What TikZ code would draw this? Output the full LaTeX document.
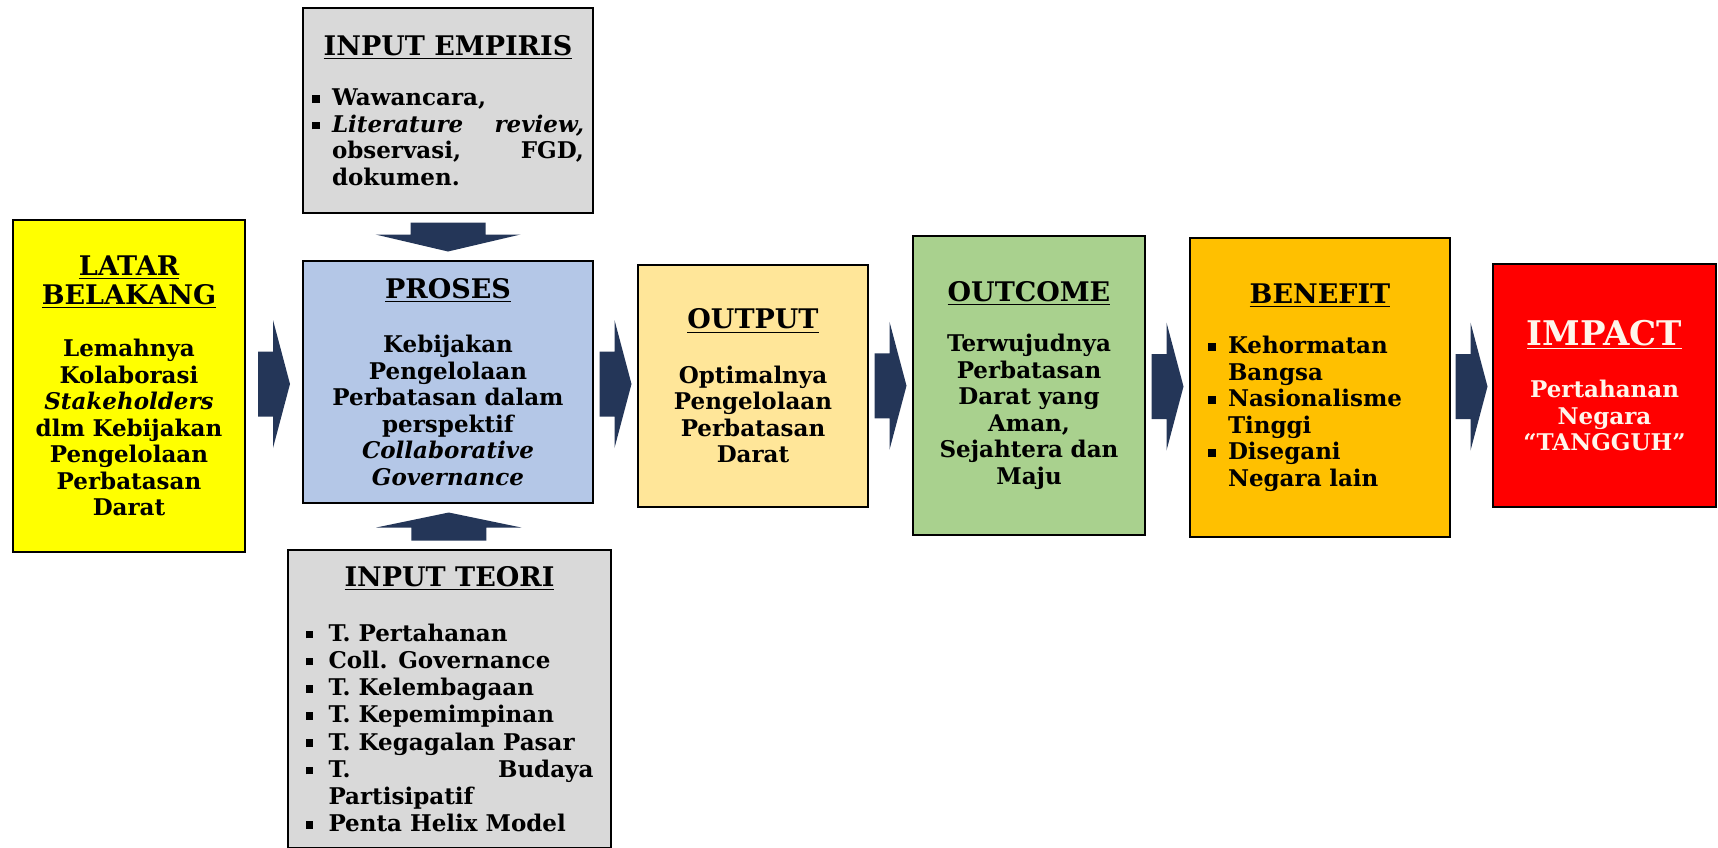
\documentclass[tikz,border=0pt]{standalone}
\usepackage{fontspec}
\setmainfont{DejaVu Serif}
\usepackage{tikz}
\usetikzlibrary{calc}

\newcommand{\ttl}[1]{{\fontsize{13.5}{14.5}\selectfont #1\par}}
\newcommand{\sqbul}{\raisebox{0.25ex}{\rule{3.8pt}{3.8pt}}}
\newcommand{\bitem}[2][11.5pt]{\par\hangindent=#1\hangafter=1\noindent\makebox[#1][l]{\sqbul}#2}

\begin{document}
\begin{tikzpicture}[x=0.5pt,y=0.5pt,yscale=-1,
  box/.style={draw={rgb, 255:red, 0; green, 0; blue, 0 }, line width=1pt, inner sep=3pt,
    font=\bfseries\fontsize{11.5}{13.25}\selectfont},
  rightarr/.style={draw=none, fill={rgb, 255:red, 36; green, 54; blue, 88 },
    to path={($(\tikztostart)!0.5!(\tikztotarget)$) ++(-16,-32.5) -- ++(15,0) -- ++(0,-31.5) -- ++(17,64) -- ++(-17,64) -- ++(0,-31.5) -- ++(-15,0) -- cycle}},
  downarr/.style={draw=none, fill={rgb, 255:red, 36; green, 54; blue, 88 },
    to path={($(\tikztostart)!0.5!(\tikztotarget)$) ++(-37.5,-14.5) -- ++(75,0) -- ++(0,12) -- ++(35,0) -- ++(-72.5,17) -- ++(-72.5,-17) -- ++(35,0) -- cycle}},
  uparr/.style={draw=none, fill={rgb, 255:red, 36; green, 54; blue, 88 },
    to path={($(\tikztostart)!0.5!(\tikztotarget)$) ++(-37.5,14) -- ++(75,0) -- ++(0,-13) -- ++(35,0) -- ++(-72.5,-15) -- ++(-72.5,15) -- ++(35,0) -- cycle}}
]
\useasboundingbox (0,0) rectangle (1718,847);
\clip (0,0) rectangle (1718,847);

%Shape: Rectangle [latar belakang]
\node[box, fill={rgb, 255:red, 255; green, 255; blue, 0 }, minimum width=116pt, minimum height=166pt, text width=108pt, align=center] (latar) at (129,386)
  {\ttl{\underline{LATAR}\\\underline{BELAKANG}}\vspace{13pt}Lemahnya\\Kolaborasi\\\textit{Stakeholders}\\dlm Kebijakan\\Pengelolaan\\Perbatasan\\Darat};
%Shape: Rectangle [input empiris]
\node[box, fill={rgb, 255:red, 217; green, 217; blue, 217 }, minimum width=145pt, minimum height=102.5pt, text width=136pt, align=justify] (empiris) at (448,110.5)
  {\ttl{\centering\underline{INPUT EMPIRIS}}\vspace{12pt}\bitem[10pt]{Wawancara,}\bitem[10pt]{\textit{Literature review,}\linebreak observasi, FGD,\linebreak dokumen.}\par};
%Shape: Rectangle [proses]
\node[box, fill={rgb, 255:red, 180; green, 199; blue, 231 }, minimum width=145pt, minimum height=121pt, text width=137pt, align=center] (proses) at (448,382)
  {\ttl{\underline{PROSES}}\vspace{14pt}Kebijakan\\Pengelolaan\\Perbatasan dalam\\perspektif\\\textit{Collaborative}\\\textit{Governance}};
%Shape: Rectangle [input teori]
\node[box, fill={rgb, 255:red, 217; green, 217; blue, 217 }, anchor=north, minimum width=161.5pt, inner ysep=8pt, text width=144pt, align=justify,
  font=\bfseries\fontsize{11.5}{13.6}\selectfont] (teori) at (449.5,549)
  {\ttl{\centering\underline{INPUT TEORI}}\vspace{14pt}\bitem{T. Pertahanan}\bitem{Coll. Governance}\bitem{T. Kelembagaan}\bitem{T. Kepemimpinan}\bitem{T. Kegagalan Pasar}\bitem{T. Budaya\linebreak Partisipatif}\bitem{Penta Helix Model}\par\vspace{45pt}};
%Shape: Rectangle [output]
\node[box, fill={rgb, 255:red, 255; green, 230; blue, 153 }, minimum width=115pt, minimum height=121pt, text width=107pt, align=center] (output) at (753,386)
  {\ttl{\underline{OUTPUT}}\vspace{14pt}Optimalnya\\Pengelolaan\\Perbatasan\\Darat};
%Shape: Rectangle [outcome]
\node[box, fill={rgb, 255:red, 169; green, 209; blue, 142 }, minimum width=116pt, minimum height=149.5pt, text width=108pt, align=center] (outcome) at (1029,385.5)
  {\ttl{\underline{OUTCOME}}\vspace{12pt}Terwujudnya\\Perbatasan\\Darat yang\\Aman,\\Sejahtera dan\\Maju};
%Shape: Rectangle [benefit]
\node[box, fill={rgb, 255:red, 255; green, 192; blue, 0 }, minimum width=130pt, minimum height=149.5pt, text width=112pt, align=left] (benefit) at (1320,387.5)
  {\ttl{\centering\underline{BENEFIT}}\vspace{12pt}\bitem[10pt]{Kehormatan\newline Bangsa}\bitem[10pt]{Nasionalisme\newline Tinggi}\bitem[10pt]{Disegani\newline Negara lain}\par};
%Shape: Rectangle [impact]
\node[box, fill={rgb, 255:red, 255; green, 0; blue, 0 }, text={rgb, 255:red, 255; green, 245; blue, 235 }, minimum width=111.5pt, minimum height=121.5pt, text width=104pt, align=center] (impact) at (1604.5,385.5)
  {{\fontsize{17}{18}\selectfont\underline{IMPACT}\par}\vspace{13pt}Pertahanan\\Negara\\“TANGGUH”};

%Block Arrows
\draw[downarr] (empiris.south) to (proses.north);
\draw[uparr] (teori.north) to (proses.south);
\draw[rightarr] (latar.east) to (proses.west);
\draw[rightarr] (proses.east) to (output.west);
\draw[rightarr] (output.east) to (outcome.west);
\draw[rightarr] (outcome.east) to (benefit.west);
\draw[rightarr] (benefit.east) to (impact.west);

\end{tikzpicture}
\end{document}
